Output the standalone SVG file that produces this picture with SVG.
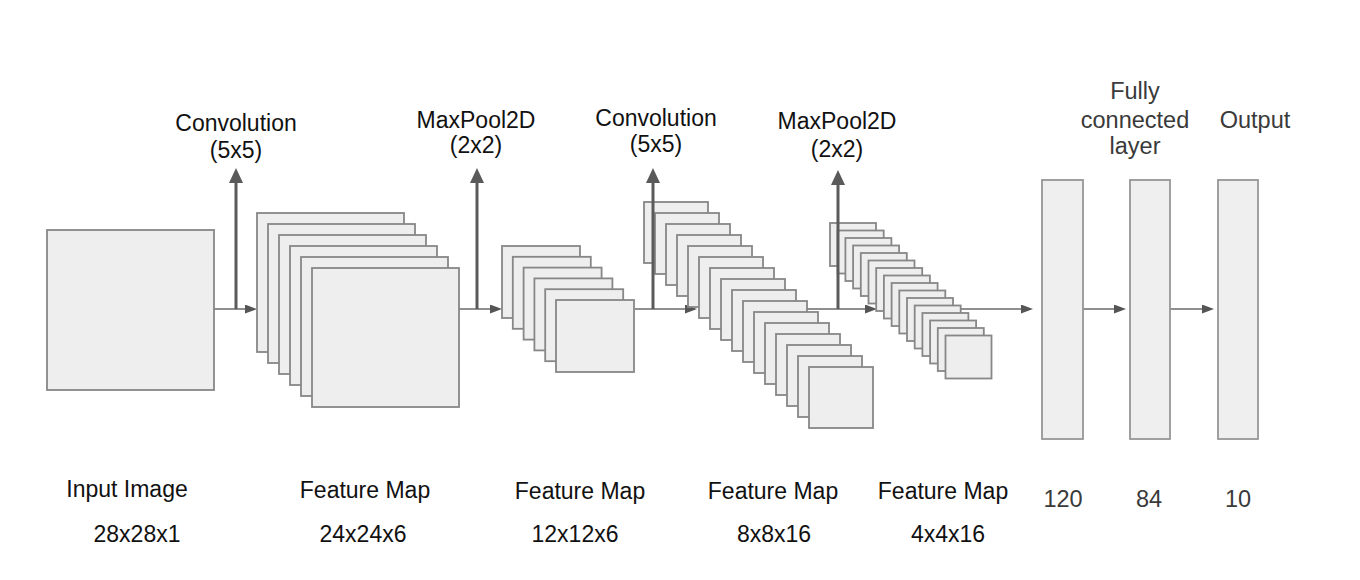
<svg xmlns="http://www.w3.org/2000/svg" width="1360" height="580" viewBox="0 0 1360 580">
<style>
.map{fill:#eeeeee;stroke:#878787;stroke-width:1.8}
.fc{fill:#efefef;stroke:#969696;stroke-width:1.8}
.up{stroke:#5a5a5a;stroke-width:3;fill:none}
.hz{stroke:#6a6a6a;stroke-width:1.5;fill:none}
.lbl{font-family:"Liberation Sans",Arial,sans-serif;font-size:23px;fill:#111;text-anchor:middle}
.soft{font-family:"Liberation Sans",Arial,sans-serif;font-size:23.5px;fill:#3a3a3a;text-anchor:middle}
</style>
<defs>
<marker id="ah-up" markerUnits="userSpaceOnUse" viewBox="0 0 15 14" markerWidth="15" markerHeight="14" refX="11" refY="7" orient="auto"><path d="M0,0 L15,7 L0,14 z" fill="#5a5a5a"/></marker>
<marker id="ah-h" markerUnits="userSpaceOnUse" viewBox="0 0 12 9" markerWidth="12" markerHeight="9" refX="9" refY="4.5" orient="auto"><path d="M0,0 L12,4.5 L0,9 z" fill="#555"/></marker>
</defs>
<rect width="1360" height="580" fill="#fff"/>

<g id="connectors-horizontal">
<line class="hz" x1="214" y1="309" x2="254" y2="309" marker-end="url(#ah-h)"/>
<line class="hz" x1="459" y1="309" x2="499" y2="309" marker-end="url(#ah-h)"/>
<line class="hz" x1="635" y1="309" x2="694" y2="309" marker-end="url(#ah-h)"/>
<line class="hz" x1="807" y1="309" x2="874" y2="309" marker-end="url(#ah-h)"/>
<line class="hz" x1="961" y1="309" x2="1030" y2="309" marker-end="url(#ah-h)"/>
<line class="hz" x1="1083" y1="309" x2="1123" y2="309" marker-end="url(#ah-h)"/>
<line class="hz" x1="1170" y1="309" x2="1211" y2="309" marker-end="url(#ah-h)"/>
</g>

<g id="input-image">
<rect class="map" x="47" y="230" width="167" height="160"/>
</g>

<g id="feature-map-24x24x6">
<rect class="map" x="257" y="213" width="147" height="139"/>
<rect class="map" x="268" y="224" width="147" height="139"/>
<rect class="map" x="279" y="235" width="147" height="139"/>
<rect class="map" x="290" y="246" width="147" height="139"/>
<rect class="map" x="301" y="257" width="147" height="139"/>
<rect class="map" x="312" y="268" width="147" height="139"/>
</g>

<g id="feature-map-12x12x6">
<rect class="map" x="502" y="246" width="78" height="72"/>
<rect class="map" x="512.8" y="256.8" width="78" height="72"/>
<rect class="map" x="523.6" y="267.6" width="78" height="72"/>
<rect class="map" x="534.4" y="278.4" width="78" height="72"/>
<rect class="map" x="545.2" y="289.2" width="78" height="72"/>
<rect class="map" x="556" y="300" width="78" height="72"/>
</g>

<g id="feature-map-8x8x16">
<rect class="map" x="644" y="202" width="64" height="61"/>
<rect class="map" x="655" y="213" width="64" height="61"/>
<rect class="map" x="666" y="224" width="64" height="61"/>
<rect class="map" x="677" y="235" width="64" height="61"/>
<rect class="map" x="688" y="246" width="64" height="61"/>
<rect class="map" x="699" y="257" width="64" height="61"/>
<rect class="map" x="710" y="268" width="64" height="61"/>
<rect class="map" x="721" y="279" width="64" height="61"/>
<rect class="map" x="732" y="290" width="64" height="61"/>
<rect class="map" x="743" y="301" width="64" height="61"/>
<rect class="map" x="754" y="312" width="64" height="61"/>
<rect class="map" x="765" y="323" width="64" height="61"/>
<rect class="map" x="776" y="334" width="64" height="61"/>
<rect class="map" x="787" y="345" width="64" height="61"/>
<rect class="map" x="798" y="356" width="64" height="61"/>
<rect class="map" x="809" y="367" width="64" height="61"/>
</g>

<g id="feature-map-4x4x16">
<rect class="map" x="830" y="223" width="46" height="43"/>
<rect class="map" x="837.7" y="230.5" width="46" height="43"/>
<rect class="map" x="845.4" y="238" width="46" height="43"/>
<rect class="map" x="853.1" y="245.5" width="46" height="43"/>
<rect class="map" x="860.8" y="253" width="46" height="43"/>
<rect class="map" x="868.5" y="260.5" width="46" height="43"/>
<rect class="map" x="876.2" y="268" width="46" height="43"/>
<rect class="map" x="883.9" y="275.5" width="46" height="43"/>
<rect class="map" x="891.6" y="283" width="46" height="43"/>
<rect class="map" x="899.3" y="290.5" width="46" height="43"/>
<rect class="map" x="907" y="298" width="46" height="43"/>
<rect class="map" x="914.7" y="305.5" width="46" height="43"/>
<rect class="map" x="922.4" y="313" width="46" height="43"/>
<rect class="map" x="930.1" y="320.5" width="46" height="43"/>
<rect class="map" x="937.8" y="328" width="46" height="43"/>
<rect class="map" x="945.5" y="335.5" width="46" height="43"/>
</g>

<g id="fc-120"><rect class="fc" x="1042" y="180" width="41" height="259"/></g>
<g id="fc-84"><rect class="fc" x="1130" y="180" width="40" height="259"/></g>
<g id="output-10"><rect class="fc" x="1218" y="180" width="40" height="259"/></g>

<g id="connectors-vertical">
<line class="up" x1="236" y1="309" x2="236" y2="172" marker-end="url(#ah-up)"/>
<line class="up" x1="477" y1="309" x2="477" y2="172" marker-end="url(#ah-up)"/>
<line class="up" x1="653" y1="309" x2="653" y2="172" marker-end="url(#ah-up)"/>
<line class="up" x1="838" y1="309" x2="838" y2="174" marker-end="url(#ah-up)"/>
</g>

<g id="labels-top">
<text class="lbl" x="236" y="131">Convolution</text>
<text class="lbl" x="236" y="158">(5x5)</text>
<text class="lbl" x="476" y="128">MaxPool2D</text>
<text class="lbl" x="476" y="153">(2x2)</text>
<text class="lbl" x="656" y="126">Convolution</text>
<text class="lbl" x="656" y="152">(5x5)</text>
<text class="lbl" x="837" y="129">MaxPool2D</text>
<text class="lbl" x="837" y="157">(2x2)</text>
<text class="soft" x="1135" y="99">Fully</text>
<text class="soft" x="1135" y="128">connected</text>
<text class="soft" x="1135" y="154">layer</text>
<text class="soft" x="1255" y="128">Output</text>
</g>

<g id="labels-bottom">
<text class="lbl" x="127" y="497">Input Image</text>
<text class="lbl" x="137" y="542">28x28x1</text>
<text class="lbl" x="365" y="498">Feature Map</text>
<text class="lbl" x="363" y="542">24x24x6</text>
<text class="lbl" x="580" y="499">Feature Map</text>
<text class="lbl" x="575" y="542">12x12x6</text>
<text class="lbl" x="773" y="499">Feature Map</text>
<text class="lbl" x="774" y="542">8x8x16</text>
<text class="lbl" x="943" y="499">Feature Map</text>
<text class="lbl" x="948" y="542">4x4x16</text>
<text class="soft" x="1063" y="507">120</text>
<text class="soft" x="1149" y="507">84</text>
<text class="soft" x="1238" y="507">10</text>
</g>
</svg>
